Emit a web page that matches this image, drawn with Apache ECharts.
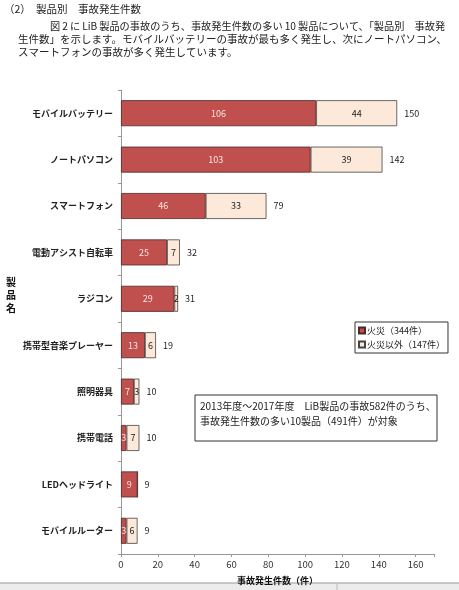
<!DOCTYPE html>
<html><head><meta charset="utf-8">
<script src="https://cdn.jsdelivr.net/npm/echarts@6/dist/echarts.min.js"></script>
<style>html,body{margin:0;padding:0;background:#fff}#c{width:459px;height:590px}</style>
</head><body><div id="c"></div>
<script>
const categories = ['モバイルバッテリー','ノートパソコン','スマートフォン','電動アシスト自転車','ラジコン','携帯型音楽プレーヤー','照明器具','携帯電話','LEDヘッドライト','モバイルルーター'];
const fire = [106,103,46,25,29,13,7,3,9,3];
const nonFire = [44,39,33,7,2,6,3,7,0,6];
const seriesNames = ['火災（344件）','火災以外（147件）'];
const xAxisName = '事故発生件数（件）';
const yAxisName = '製品名';
const headTitle = '（2）　製品別　事故発生件数';
const paragraph = ['図\u20092\u2009に\u2009LiB\u2009製品の事故のうち、事故発生件数の多い\u200910\u2009製品について、「製品別　事故発','生件数」を示します。モバイルバッテリーの事故が最も多く発生し、次にノートパソコン、','スマートフォンの事故が多く発生しています。'];
const noteLines = ['2013年度～2017年度　LiB製品の事故582件のうち、','事故発生件数の多い10製品（491件）が対象'];
const totals = fire.map((v,i)=>v+nonFire[i]);

const FONT = '"Noto Sans CJK JP", sans-serif';
const chart = echarts.init(document.getElementById('c'), null, {renderer:'canvas'});
chart.setOption({
  animation:false,
  textStyle:{fontFamily:FONT},
  grid:{left:121,right:25,top:90,bottom:36,containLabel:false},
  xAxis:{type:'value',min:0,max:170,interval:20,
    axisLine:{show:true,lineStyle:{color:'#999'}},
    axisTick:{show:true,length:3,lineStyle:{color:'#999'}},
    splitLine:{show:false},
    axisLabel:{fontSize:9.5,color:'#333',margin:6,fontFamily:FONT,
      formatter:v=>v>160?'':String(v)},
    name:xAxisName,nameLocation:'middle',nameGap:22,
    nameTextStyle:{fontSize:9,fontWeight:'bold',color:'#111',fontFamily:FONT}},
  yAxis:{type:'category',data:categories,inverse:true,
    axisLine:{show:true,lineStyle:{color:'#999'}},
    axisTick:{show:true,length:3,lineStyle:{color:'#999'}},
    axisLabel:{fontSize:9,fontWeight:'bold',color:'#222',margin:8,fontFamily:FONT}},
  legend:{data:seriesNames,orient:'vertical',left:355,top:322,
    borderColor:'#333',borderWidth:1,borderRadius:0,padding:[4,3,4,3],itemGap:5,
    itemWidth:6,itemHeight:6,icon:'rect',
    textStyle:{fontSize:9,color:'#222',padding:[0,0,0,-3],fontFamily:FONT}},
  series:[
    {name:seriesNames[0],type:'bar',stack:'s',data:fire,barWidth:'56%',
     itemStyle:{color:'#c0504d',borderColor:'#4a2a2a',borderWidth:0.8},
     label:{show:true,position:'inside',color:'#fbe4e4',fontSize:9,fontFamily:FONT,
       formatter:p=>p.value>0?String(p.value):''}},
    {name:seriesNames[1],type:'bar',stack:'s',data:nonFire,barWidth:'56%',
     itemStyle:{color:'#fde9d9',borderColor:'#444',borderWidth:0.8},
     label:{show:true,position:'inside',color:'#222',fontSize:9,fontFamily:FONT,
       formatter:p=>p.value>0?String(p.value):''}},
    {name:'total',type:'bar',stack:'s',data:totals.map(()=>0),barWidth:'56%',
     itemStyle:{color:'transparent'},silent:true,
     label:{show:true,position:'right',distance:7,color:'#222',fontSize:9,fontFamily:FONT,
       formatter:p=>String(totals[p.dataIndex])}}
  ],
  graphic:[
    {type:'text',left:4,top:4,style:{text:headTitle,fill:'#222',font:'10.5px '+FONT}},
    {type:'text',left:50,top:21,style:{text:paragraph[0],fill:'#222',font:'10.2px '+FONT}},
    {type:'text',left:18,top:34,style:{text:paragraph[1],fill:'#222',font:'10.5px '+FONT}},
    {type:'text',left:18,top:47,style:{text:paragraph[2],fill:'#222',font:'10.5px '+FONT}},
    {type:'text',left:6,top:276,style:{text:yAxisName.split('').join('\n'),fill:'#111',
      font:'bold 10px '+FONT,lineHeight:13}},
    {type:'rect',shape:{x:195,y:395,width:242,height:46},style:{fill:'#fff',stroke:'#333',lineWidth:1}},
    {type:'text',left:200,top:399,style:{text:noteLines.join('\n'),fill:'#222',font:'10px '+FONT,lineHeight:15}},
    {type:'rect',shape:{x:0,y:583,width:459,height:7},style:{fill:'#ececec'}},
    {type:'line',shape:{x1:0,y1:583,x2:459,y2:583},style:{stroke:'#999',lineWidth:1}},
    {type:'line',shape:{x1:337,y1:583,x2:337,y2:590},style:{stroke:'#bbb',lineWidth:1}}
  ]
});
</script></body></html>
